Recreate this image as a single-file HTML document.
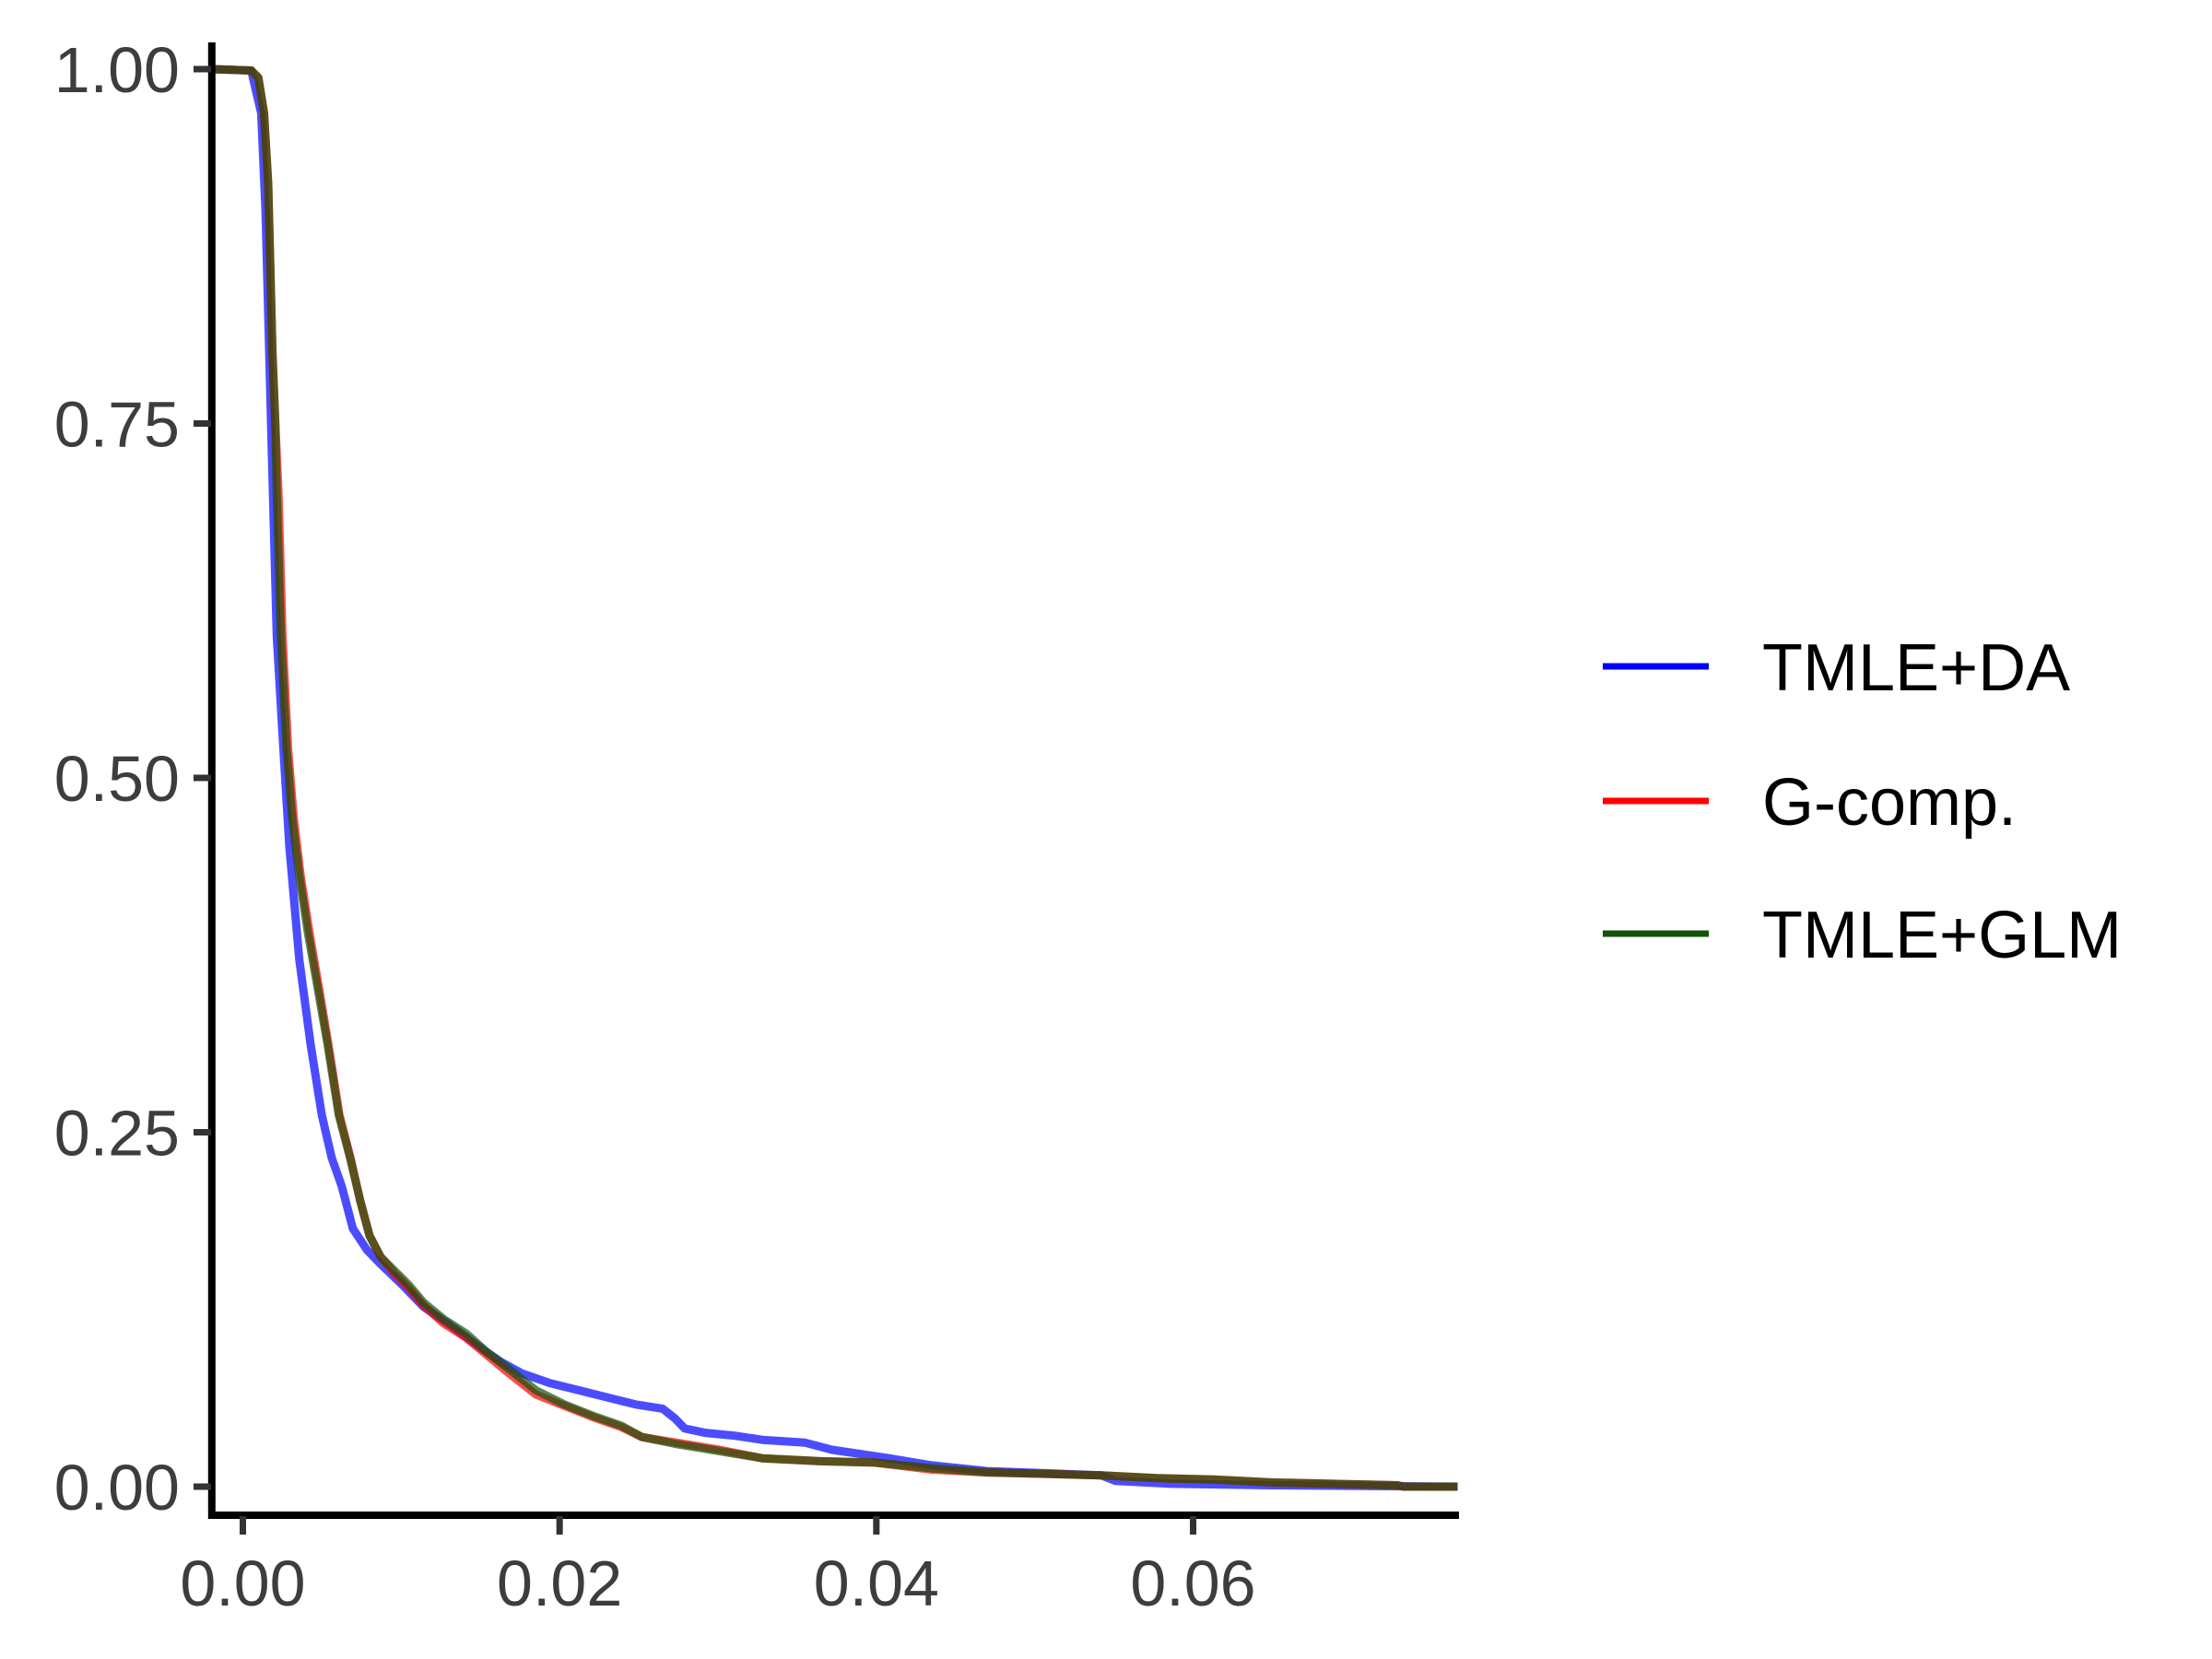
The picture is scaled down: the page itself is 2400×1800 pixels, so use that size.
<!DOCTYPE html>
<html><head><meta charset="utf-8"><style>
html,body{margin:0;padding:0;background:#fff;}
svg{display:block;font-family:"Liberation Sans",Arial,sans-serif;}
</style></head><body>
<svg id="chart" width="2400" height="1800" viewBox="0 0 2400 1800">
<g id="series"></g>
<line x1="229.8" y1="46" x2="229.8" y2="1648" stroke="#000" stroke-width="8"/>
<line x1="226" y1="1644" x2="1583" y2="1644" stroke="#000" stroke-width="8"/>
<g id="yticks"></g>
<g id="xticks"></g>
<g>
<line x1="1739" y1="723" x2="1854" y2="723" stroke="#0000ff" stroke-width="7"/>
<text x="1912" y="749" font-size="72" fill="#000">TMLE+DA</text>
<line x1="1739" y1="869" x2="1854" y2="869" stroke="#ff0000" stroke-width="7"/>
<text x="1912" y="895" font-size="72" fill="#000">G-comp.</text>
<line x1="1739" y1="1013" x2="1854" y2="1013" stroke="#14530a" stroke-width="7"/>
<text x="1912" y="1039" font-size="72" fill="#000">TMLE+GLM</text>
</g>
</svg>
<script>
const yTickValues=[0,0.25,0.5,0.75,1];
const yTickLabels=["0.00","0.25","0.50","0.75","1.00"];
const xTickValues=[0,0.02,0.04,0.06];
const xTickLabels=["0.00","0.02","0.04","0.06"];
const blueX=[-0.00196,0.00053,0.00116,0.00143,0.00178,0.00214,0.0025,0.00294,0.00356,0.00428,0.00499,0.00561,0.00624,0.00695,0.00784,0.0087,0.0101,0.0114,0.0132,0.015,0.0163,0.0176,0.0194,0.0212,0.023,0.0248,0.0265,0.0273,0.0279,0.0292,0.031,0.0328,0.0355,0.0372,0.039,0.0408,0.0435,0.047,0.0542,0.0551,0.0586,0.0649,0.0767];
const blueY=[1,0.999,0.969,0.90,0.75,0.60,0.531,0.451,0.372,0.312,0.262,0.232,0.212,0.182,0.167,0.157,0.142,0.127,0.113,0.098,0.088,0.08,0.073,0.068,0.063,0.058,0.055,0.048,0.041,0.038,0.036,0.033,0.031,0.026,0.023,0.020,0.015,0.011,0.008,0.004,0.002,0.001,0];
const redX=[-0.00196,0.00053,0.00098,0.00134,0.0016,0.00187,0.00205,0.00225,0.0025,0.00285,0.00322,0.00365,0.0042,0.0048,0.0054,0.0061,0.0068,0.0074,0.008,0.0087,0.0096,0.0105,0.0114,0.0127,0.0141,0.0154,0.0168,0.0185,0.0203,0.0221,0.0239,0.0252,0.0274,0.0301,0.0328,0.0363,0.0399,0.0435,0.047,0.0542,0.0577,0.0613,0.0649,0.0729,0.0733,0.0767];
const redY=[1,0.999,0.994,0.969,0.919,0.80,0.75,0.70,0.60,0.521,0.471,0.431,0.391,0.352,0.312,0.262,0.232,0.202,0.177,0.162,0.150,0.140,0.128,0.115,0.105,0.093,0.080,0.065,0.057,0.049,0.042,0.035,0.031,0.026,0.020,0.018,0.017,0.012,0.010,0.008,0.006,0.005,0.003,0.001,0,0];
const greenX=[-0.00196,0.00053,0.00098,0.00134,0.0016,0.00187,0.00205,0.00214,0.0024,0.00276,0.00312,0.00356,0.0041,0.00472,0.00535,0.00606,0.00677,0.0074,0.008,0.0087,0.0096,0.0105,0.0114,0.0127,0.0141,0.0154,0.0168,0.0185,0.0203,0.0221,0.0239,0.0252,0.0274,0.0301,0.0328,0.0363,0.0399,0.0435,0.047,0.0542,0.0577,0.0613,0.0649,0.0729,0.0733,0.0767];
const greenY=[1,0.999,0.994,0.969,0.919,0.80,0.75,0.70,0.60,0.521,0.471,0.431,0.391,0.352,0.312,0.262,0.232,0.202,0.177,0.162,0.152,0.142,0.13,0.118,0.108,0.095,0.083,0.068,0.058,0.05,0.043,0.035,0.030,0.025,0.020,0.018,0.017,0.013,0.010,0.008,0.006,0.005,0.003,0.001,0,0];

const NS="http://www.w3.org/2000/svg";
function xs(v){return 263.5+v*(1294.5-263.5)/0.06;}
function ys(v){return 1613-v*(1613-75);}
const series=document.getElementById('series');
function drawLine(X,Y,color,name){
  const p=document.createElementNS(NS,'polyline');
  p.setAttribute('points',X.map((x,i)=>xs(x).toFixed(1)+','+ys(Y[i]).toFixed(1)).join(' '));
  p.setAttribute('fill','none');
  p.setAttribute('stroke',color);
  p.setAttribute('stroke-width','9');
  p.setAttribute('stroke-opacity','0.7');
  p.setAttribute('stroke-linejoin','round');
  
  
  series.appendChild(p);
}
drawLine(blueX,blueY,'#0000ff','line-tmle-da');
drawLine(redX,redY,'#ff0000','line-g-comp');
drawLine(greenX,greenY,'#14530a','line-tmle-glm');

const yt=document.getElementById('yticks');
yTickValues.forEach((v,i)=>{
  const l=document.createElementNS(NS,'line');
  l.setAttribute('x1',210);l.setAttribute('x2',229);
  l.setAttribute('y1',ys(v));l.setAttribute('y2',ys(v));
  l.setAttribute('stroke','#333');l.setAttribute('stroke-width','7');
  
  
  yt.appendChild(l);
  const t=document.createElementNS(NS,'text');
  t.setAttribute('x',195);t.setAttribute('y',ys(v)+25);
  t.setAttribute('text-anchor','end');t.setAttribute('font-size','70');t.setAttribute('fill','#3d3d3d');
  t.textContent=yTickLabels[i];
  
  
  yt.appendChild(t);
});
const xt=document.getElementById('xticks');
xTickValues.forEach((v,i)=>{
  const l=document.createElementNS(NS,'line');
  l.setAttribute('x1',xs(v));l.setAttribute('x2',xs(v));
  l.setAttribute('y1',1645);l.setAttribute('y2',1665);
  l.setAttribute('stroke','#333');l.setAttribute('stroke-width','7');
  
  
  xt.appendChild(l);
  const t=document.createElementNS(NS,'text');
  t.setAttribute('x',xs(v));t.setAttribute('y',1742);
  t.setAttribute('text-anchor','middle');t.setAttribute('font-size','70');t.setAttribute('fill','#3d3d3d');
  t.textContent=xTickLabels[i];
  
  
  xt.appendChild(t);
});
</script>
</body></html>
